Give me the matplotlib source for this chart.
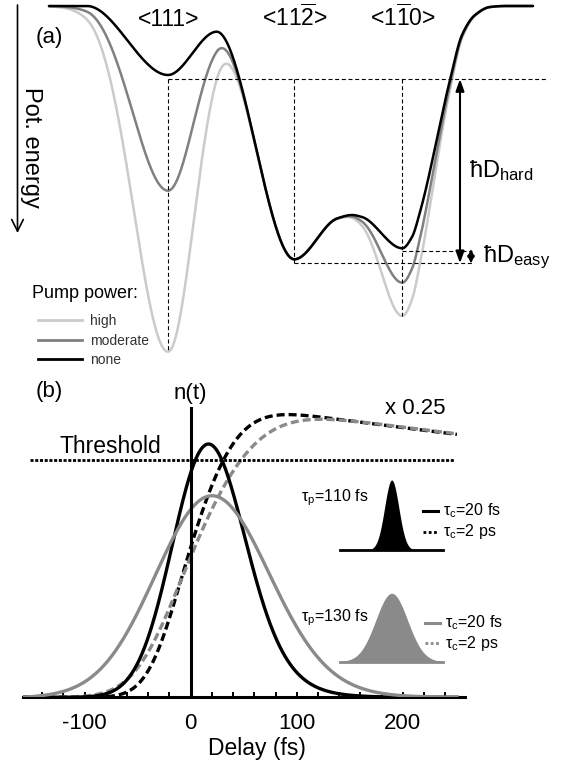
import numpy as np
import matplotlib.pyplot as plt

plt.rcParams['font.family'] = ['Liberation Sans', 'DejaVu Sans']
plt.rcParams['mathtext.fontset'] = 'custom'
plt.rcParams['mathtext.rm'] = 'Liberation Sans'
plt.rcParams['mathtext.it'] = 'Liberation Sans:italic'
plt.rcParams['mathtext.bf'] = 'Liberation Sans:bold'
plt.rcParams['axes.unicode_minus'] = False

W, H = 563, 764

# ---- (a) potential energy landscape (px units) ----
# control points of the unpumped ("none") curve: position, depth below top
none_pos = [49, 87, 168, 216.7, 294.3, 337, 352, 362, 402.3, 412, 420,
            450, 462, 475, 490, 505, 533]
none_depth = [6, 6, 75, 31.7, 259.3, 218.5, 215, 217, 248.3, 237, 212,
              80, 35, 15, 7, 6, 6]
# pump deepens the <111> and <1-10> wells
pump_labels = ['high', 'moderate', 'none']
pump_colors = ['#cbcbcb', '#808080', '#000000']
extra_111 = [276.7, 115.7, 0.0]
extra_110 = [67.7, 34.4, 0.0]
well_pos = [168, 294.3, 402.3]
well_names = ['<111>', r'<11$\overline{\mathrm{2}}$>', r'<1$\overline{\mathrm{1}}$0>']
well_bottom = [352, 263.3, 316]
level_hard, level_easy, level_ground = 79, 250.7, 263.3

# ---- (b) excited density n(t) ----
pump_fwhm = ['110 fs', '130 fs']
curve_colors = ['#000000', '#8a8a8a']
solid_sigma = [31, 51]          # fs, tau_c = 20 fs
solid_peak_t = [17, 20]
solid_peak_n = [0.896, 0.713]
dashed_sigma_lr = [(25, 40), (35, 55)]   # fs, tau_c = 2 ps
dashed_center = [-10, -10]
dashed_peak = 1.0
tau_c = [20, 2000]
threshold = 0.84
threshold_span = [-151, 249]
t_range = [-158, 251]


def pchip(xk, yk, x):
    xk = np.asarray(xk, float)
    yk = np.asarray(yk, float)
    h = np.diff(xk)
    d = np.diff(yk) / h
    m = np.zeros_like(xk)
    for k in range(1, len(xk) - 1):
        if d[k - 1] * d[k] > 0:
            w1 = 2 * h[k] + h[k - 1]
            w2 = h[k] + 2 * h[k - 1]
            m[k] = (w1 + w2) / (w1 / d[k - 1] + w2 / d[k])
    i = np.clip(np.searchsorted(xk, x) - 1, 0, len(h) - 1)
    s = (x - xk[i]) / h[i]
    h00 = 2 * s**3 - 3 * s**2 + 1
    h10 = s**3 - 2 * s**2 + s
    h01 = -2 * s**3 + 3 * s**2
    h11 = s**3 - s**2
    return h00 * yk[i] + h10 * h[i] * m[i] + h01 * yk[i + 1] + h11 * h[i] * m[i + 1]


def well(x, c, wl, wr):
    s = np.where(x < c, wl, wr)
    return np.exp(-0.5 * ((x - c) / s) ** 2)


def response(t, sl, sr, center, tau):
    # unit-area (asymmetric) gaussian pulse convolved with an exponential decay
    dt = t[1] - t[0]
    s = np.where(t < center, sl, sr)
    pulse = np.exp(-0.5 * ((t - center) / s) ** 2)
    pulse /= pulse.sum() * dt
    n = np.zeros_like(t)
    k = np.exp(-dt / tau)
    for i in range(1, len(t)):
        n[i] = n[i - 1] * k + pulse[i] * dt
    return n


fig = plt.figure(figsize=(W / 100, H / 100), dpi=100)

# panel (b) axes
ax = fig.add_axes([23 / W, (H - 697.3) / H, 442 / W, 297.3 / H])
ax.set_xlim(-158, 258.6)
ax.set_ylim(0, 297.3 / 282.7)
for side in ['top', 'right', 'left']:
    ax.spines[side].set_visible(False)
ax.spines['bottom'].set_linewidth(2.2)
ax.set_yticks([])
ax.set_xticks([-100, 0, 100, 200])
ax.set_xticks(np.arange(-140, 241, 20), minor=True)
ax.tick_params(axis='x', which='both', direction='in', length=3.5, width=1.4,
               labelsize=16, pad=11)

t = np.arange(t_range[0], t_range[1] + 0.25, 0.5)

# dashed: tau_c = 2 ps, normalised so the black one peaks at dashed_peak
dashed = [response(t, sl, sr, c, tau_c[1])
          for (sl, sr), c in zip(dashed_sigma_lr, dashed_center)]
scale = dashed_peak / dashed[0].max()
for n, col in zip(dashed, curve_colors):
    ax.plot(t, n * scale, color=col, lw=2.4, dashes=(2.4, 1.2), zorder=3)

# solid: tau_c = 20 fs
for s, tp, npk, col in zip(solid_sigma, solid_peak_t, solid_peak_n, curve_colors):
    n0 = response(t, s, s, 0, tau_c[0])
    shift = tp - t[np.argmax(n0)]
    n = response(t, s, s, shift, tau_c[0])
    ax.plot(t, n / n.max() * npk, color=col, lw=2.4, zorder=4)

ax.plot(threshold_span, [threshold, threshold], color='k', lw=2.0,
        dashes=(1.1, 0.6), zorder=5)
ax.axvline(0, ymax=1.023 / (297.3 / 282.7), color='k', lw=2.2, zorder=6)

# overlay in picture pixels for the schematic and the annotations
ov = fig.add_axes([0, 0, 1, 1], facecolor='none')
ov.set_xlim(0, W)
ov.set_ylim(H, 0)
ov.axis('off')

x = np.linspace(none_pos[0], none_pos[-1], 1500)
base = pchip(none_pos, none_depth, x)
for lab, col, e1, e2 in zip(pump_labels, pump_colors, extra_111, extra_110):
    y = base + e1 * well(x, well_pos[0], 33, 26) + e2 * well(x, well_pos[2], 20, 24)
    ov.plot(x, y, color=col, lw=1.8, solid_capstyle='round')

dash_kw = dict(color='k', lw=0.8, dashes=(3.6, 2.4))
ov.plot([well_pos[0], 548], [level_hard, level_hard], **dash_kw)
for p, b in zip(well_pos, well_bottom):
    ov.plot([p, p], [level_hard, b], **dash_kw)
ov.plot([well_pos[2], 471.7], [level_easy, level_easy], **dash_kw)
ov.plot([well_pos[1], 471.7], [level_ground, level_ground], **dash_kw)

for p, name in zip(well_pos, well_names):
    ov.text(p + 1, 26, name, ha='center', va='baseline', fontsize=16.5)

ov.annotate('', xy=(460, level_hard), xytext=(460, level_ground),
            arrowprops=dict(arrowstyle='<|-|>,head_length=0.7,head_width=0.25',
                            lw=1.5, color='k', shrinkA=0, shrinkB=0,
                            mutation_scale=10))
ov.annotate('', xy=(471, level_easy - 1.5), xytext=(471, level_ground),
            arrowprops=dict(arrowstyle='<|-|>,head_length=0.6,head_width=0.3',
                            lw=1.2, color='k', shrinkA=0, shrinkB=0,
                            mutation_scale=7))
ov.text(469, 177, r'ħD$_\mathrm{hard}$', fontsize=17, va='baseline')
ov.text(483, 262, r'ħD$_\mathrm{easy}$', fontsize=17, va='baseline')

ov.text(49.5, 37, '(a)', fontsize=16, ha='center', va='center')
ov.text(31, 147, 'Pot. energy', fontsize=17, rotation=-90, ha='center', va='center')
ov.annotate('', xy=(17.5, 233), xytext=(17.5, 5),
            arrowprops=dict(arrowstyle='->,head_length=0.6,head_width=0.3',
                            lw=1.2, color='k', shrinkA=0, shrinkB=0,
                            mutation_scale=14))

ov.text(31.5, 293, 'Pump power:', fontsize=13, va='center')
for yy, lab, col in zip([320, 340, 359.3], pump_labels, pump_colors):
    ov.plot([38.3, 81.7], [yy, yy], color=col, lw=2.0)
    ov.text(90, yy + 1, lab, fontsize=10, color='#333333', va='center')

# panel (b) annotations
ov.text(49.5, 391, '(b)', fontsize=16, ha='center', va='center')
ov.text(190, 393, 'n(t)', fontsize=16, ha='center', va='center')
ov.text(415.5, 408, 'x 0.25', fontsize=16, ha='center', va='center')
ov.text(110, 453.3, 'Threshold', fontsize=16.5, ha='center', va='baseline')
ov.text(257, 748, 'Delay (fs)', fontsize=16.5, ha='center', va='center')

# legend insets: pump pulses and tau_c line styles
inset_base = [550, 661.7]
inset_height = [70, 68.4]
inset_sigma = [7.1, 15.9]
xi = np.linspace(340, 443.3, 300)
for b, hgt, sg, col, fw, yl in zip(inset_base, inset_height, inset_sigma,
                                   curve_colors, pump_fwhm, [498, 618]):
    g = b - hgt * np.exp(-0.5 * ((xi - 391.7) / sg) ** 2)
    ov.fill_between(xi, g, b, color=col, lw=0)
    ov.plot([340, 443.3], [b, b], color=col, lw=2.0)
    ov.text(300.7, yl, r'τ$_\mathrm{p}$=' + fw, fontsize=11.5, va='center')

for col, ys, x0 in zip(curve_colors, [(510.7, 531.7), (622.7, 643.3)], [423, 425]):
    ov.plot([x0, x0 + 15], [ys[0], ys[0]], color=col, lw=2.2)
    ov.plot([x0, x0 + 15], [ys[1], ys[1]], color=col, lw=2.0, dashes=(1, 0.9))
    ov.text(x0 + 20, ys[0], r'τ$_\mathrm{c}$=20 fs', fontsize=11.5, va='center')
    ov.text(x0 + 20, ys[1], r'τ$_\mathrm{c}$=2 ps', fontsize=11.5, va='center')

fig.savefig('out.png', dpi=100)
